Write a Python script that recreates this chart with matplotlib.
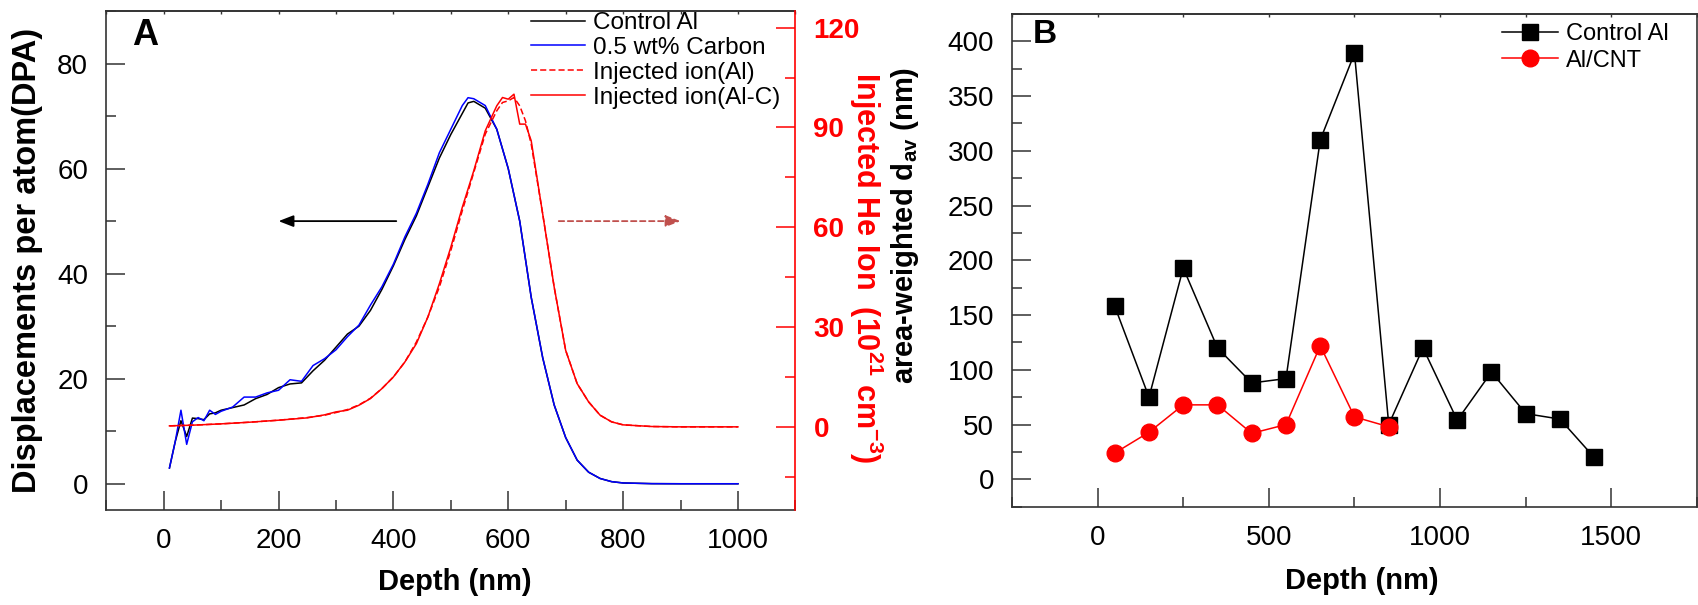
import matplotlib
matplotlib.use("Agg")
import matplotlib.pyplot as plt
from matplotlib.ticker import MultipleLocator

plt.rcParams['font.family'] = ['Liberation Sans', 'DejaVu Sans']
plt.rcParams['mathtext.fontset'] = 'custom'
plt.rcParams['mathtext.rm'] = 'Liberation Sans'
plt.rcParams['mathtext.bf'] = 'Liberation Sans:bold'
plt.rcParams['mathtext.it'] = 'Liberation Sans:italic'

# ---------------- Panel A data ----------------
depth_dpa = [10, 20, 30, 40, 50, 60, 70, 80, 90, 100, 120, 140, 160, 180, 200, 220, 240,
             260, 280, 300, 320, 340, 360, 380, 400, 420, 440, 460, 480, 500, 520, 530,
             540, 560, 580, 600, 620, 640, 660, 680, 700, 720, 740, 760, 780, 800, 850,
             900, 950, 1000]
dpa_control = [3, 8, 12, 9, 12.5, 12.4, 12.2, 13.3, 13.5, 14, 14.5, 15, 16.2, 17, 18.3, 19,
               19.2, 21.5, 23.5, 26, 28.5, 30, 33, 37, 41.5, 46.5, 51, 56.5, 62, 66.5, 70.5,
               72.5, 72.8, 71.5, 67.5, 60, 50, 35.5, 24, 15, 8.8, 4.5, 2.2, 1.0, 0.4, 0.15,
               0.02, 0, 0, 0]
dpa_carbon = [3, 8, 14, 7.5, 11.8, 12.6, 12.0, 14, 13.2, 13.8, 14.6, 16.5, 16.5, 17.3, 17.8,
              19.8, 19.5, 22.5, 23.8, 25.5, 28, 30.2, 34, 37.5, 41.8, 47, 51.5, 57, 63, 67.5,
              72, 73.5, 73.3, 72, 67.5, 60, 50, 35.5, 24, 15, 8.8, 4.5, 2.2, 1.0, 0.4, 0.15,
              0.02, 0, 0, 0]

depth_ion = [10, 50, 100, 150, 200, 250, 280, 300, 320, 340, 360, 380, 400, 420, 440, 460,
             480, 500, 520, 540, 560, 580, 590, 600, 610, 620, 630, 640, 660, 680, 700, 720,
             740, 760, 780, 800, 850, 900, 950, 1000]
ion_al = [0.3, 0.5, 0.9, 1.4, 2.0, 2.8, 3.5, 4.3, 5.2, 6.6, 8.6, 11.5, 15, 19.5, 25.5, 33,
          42, 53, 65, 76.5, 88, 95, 97.5, 98, 99, 96.5, 92, 85, 64, 42, 23, 13, 7.5, 3.5,
          1.5, 0.6, 0.1, 0, 0, 0]
ion_alc = [0.3, 0.5, 0.9, 1.4, 2.0, 2.7, 3.6, 4.5, 5.0, 6.5, 8.5, 11.5, 15, 19.5, 25, 33,
           43, 54, 66, 77, 89, 96.5, 99, 98.5, 100, 91, 91, 86, 64, 42, 23, 13, 7.5, 3.5,
           1.5, 0.6, 0.1, 0, 0, 0]

# ---------------- Panel B data ----------------
depth_b_control = [50, 150, 250, 350, 450, 550, 650, 750, 850, 950, 1050, 1150, 1250, 1350, 1450]
dav_control = [158, 75, 193, 120, 88, 92, 310, 389, 50, 120, 54, 98, 60, 55, 20]
depth_b_cnt = [50, 150, 250, 350, 450, 550, 650, 750, 850]
dav_cnt = [24, 43, 68, 68, 42, 50, 122, 57, 48]

TICK_FS = 20
LABEL_FS = 21
SPINE_C = '#333333'

fig = plt.figure(figsize=(16.98, 6.05), dpi=100)
axA = fig.add_axes([0.0626, 0.157, 0.4058, 0.8248])
axB = fig.add_axes([0.596, 0.1625, 0.4034, 0.8144])


def style_axis(ax, xmaj, xmin, ymaj, ymin):
    ax.xaxis.set_major_locator(MultipleLocator(xmaj))
    ax.xaxis.set_minor_locator(MultipleLocator(xmin))
    ax.yaxis.set_major_locator(MultipleLocator(ymaj))
    ax.yaxis.set_minor_locator(MultipleLocator(ymin))
    ax.tick_params(which='major', direction='in', length=14, width=1.1,
                   labelsize=TICK_FS, pad=13, color=SPINE_C, top=False, right=False)
    ax.tick_params(which='minor', direction='in', length=7, width=1.1,
                   color=SPINE_C, top=False, right=False)
    for s in ax.spines.values():
        s.set_linewidth(1.2)
        s.set_color(SPINE_C)
    sec = ax.secondary_xaxis('top')
    sec.xaxis.set_major_locator(MultipleLocator(xmin))
    sec.tick_params(direction='in', length=2.5, width=1.0, labeltop=False, color=SPINE_C)
    sec.spines['top'].set_linewidth(1.2)
    sec.spines['top'].set_color(SPINE_C)


# ---------------- Panel A ----------------
axA.plot(depth_dpa, dpa_control, color='black', lw=1.1, label='Control Al')
axA.plot(depth_dpa, dpa_carbon, color='#0000ff', lw=1.1, label='0.5 wt% Carbon')
axA.set_xlim(-100, 1100)
axA.set_ylim(-5, 90)
style_axis(axA, 200, 100, 20, 10)
axA.set_xlabel('Depth (nm)', fontsize=LABEL_FS, fontweight='bold', va='center')
axA.xaxis.set_label_coords(0.506, -0.144)
axA.set_ylabel('Displacements per atom(DPA)', fontsize=23.5, fontweight='bold', va='center')
axA.yaxis.set_label_coords(-0.115, 0.50)
axA.text(0.037, 0.985, 'A', transform=axA.transAxes, fontsize=26, fontweight='bold',
         ha='left', va='top')

ax2 = axA.twinx()
ax2.plot(depth_ion, ion_al, color='#ff0000', lw=1.1, ls=(0, (4, 2)), label='Injected ion(Al)')
ax2.plot(depth_ion, ion_alc, color='#ff0000', lw=1.1, label='Injected ion(Al-C)')
ax2.set_ylim(-25, 125)
ax2.yaxis.set_major_locator(MultipleLocator(30))
ax2.yaxis.set_minor_locator(MultipleLocator(15))
ax2.tick_params(which='major', direction='in', length=14, width=1.1, colors='#ff0000',
                labelsize=TICK_FS, pad=13)
ax2.tick_params(which='minor', direction='in', length=7, width=1.1, colors='#ff0000')
for lab in ax2.get_yticklabels():
    lab.set_fontweight('bold')
ax2.spines['right'].set_color('#ff0000')
ax2.spines['right'].set_linewidth(1.2)
for k in ('left', 'top', 'bottom'):
    ax2.spines[k].set_visible(False)
axA.spines['right'].set_visible(False)
ax2.set_ylabel('Injected He Ion  (10$^{\\mathbf{21}}$ cm$^{\\mathbf{-3}}$)', fontsize=22,
               fontweight='bold', color='#ff0000', rotation=270, va='center')
ax2.yaxis.set_label_coords(1.103, 0.485)

# direction arrows
axA.annotate('', xy=(200, 50), xytext=(405, 50),
             arrowprops=dict(arrowstyle='-|>,head_length=0.9,head_width=0.35',
                             color='black', lw=1.3, shrinkA=0, shrinkB=0))
axA.annotate('', xy=(900, 50), xytext=(688, 50),
             arrowprops=dict(arrowstyle='-|>,head_length=0.9,head_width=0.35',
                             color='#c0504d', lw=1.3, ls=(0, (3, 2)), shrinkA=0, shrinkB=0))

hA, lA = axA.get_legend_handles_labels()
h2, l2 = ax2.get_legend_handles_labels()
legA = ax2.legend(hA + h2, lA + l2, loc='upper left', bbox_to_anchor=(0.616, 0.998),
                  frameon=False, fontsize=17.5, handlelength=2.25, handletextpad=0.3,
                  labelspacing=0.12, borderpad=0, borderaxespad=0)

# ---------------- Panel B ----------------
axB.plot(depth_b_control, dav_control, color='black', lw=1.1, marker='s', ms=11,
         mfc='black', mec='black', label='Control Al')
axB.plot(depth_b_cnt, dav_cnt, color='#ff0000', lw=1.1, marker='o', ms=12,
         mfc='#ff0000', mec='#ff0000', label='Al/CNT')
axB.set_xlim(-250, 1750)
axB.set_ylim(-25, 425)
style_axis(axB, 500, 250, 50, 25)
axB.tick_params(which='major', right=False)
axB.set_xlabel('Depth (nm)', fontsize=LABEL_FS, fontweight='bold', va='center')
axB.xaxis.set_label_coords(0.511, -0.151)
axB.set_ylabel('area-weighted d$_{\\mathbf{av}}$ (nm)', fontsize=21, fontweight='bold',
               va='center')
axB.yaxis.set_label_coords(-0.156, 0.57)
axB.text(0.031, 0.99, 'B', transform=axB.transAxes, fontsize=24, fontweight='bold',
         ha='left', va='top')
axB.legend(loc='upper left', bbox_to_anchor=(0.715, 0.982), frameon=False, fontsize=17,
           handlelength=2.4, handletextpad=0.3, labelspacing=0.2, borderpad=0,
           borderaxespad=0)

fig.savefig('out.png', dpi=100)
